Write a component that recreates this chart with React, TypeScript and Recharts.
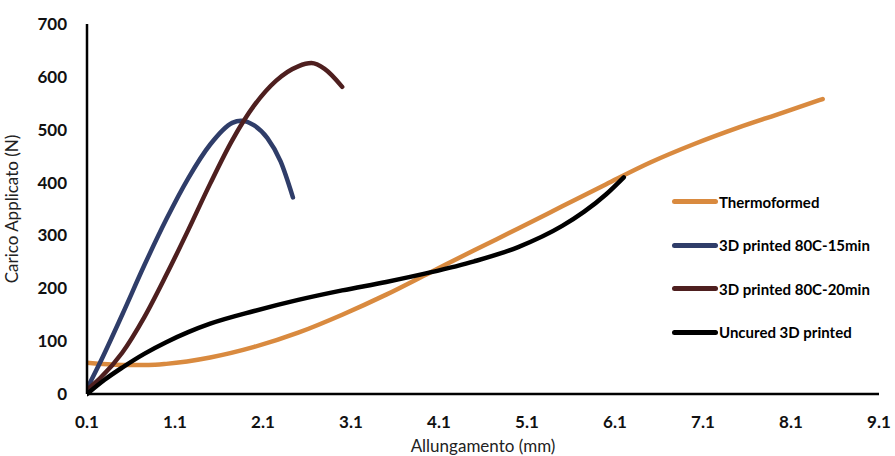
import { LineChart, Line, XAxis, YAxis, Legend } from 'recharts';

// tick values
const xTicks = [0.1, 1.1, 2.1, 3.1, 4.1, 5.1, 6.1, 7.1, 8.1, 9.1];
const yTicks = [0, 100, 200, 300, 400, 500, 600, 700];

// Thermoformed
const thermoX = [0.1, 0.5, 0.8, 1.0, 1.5, 2.0, 2.5, 3.0, 3.5, 4.0, 4.5, 5.0, 5.5, 6.0, 6.5, 7.0, 7.5, 8.0, 8.46];
const thermoY = [59, 55, 55, 57, 69, 89, 116, 150, 188, 230, 272, 313, 355, 397, 438, 473, 504, 532, 558];

// 3D printed 80C-15min
const p15X = [0.1, 0.25, 0.5, 0.75, 1.0, 1.25, 1.5, 1.75, 1.85, 2.0, 2.15, 2.3, 2.44];
const p15Y = [10, 60, 150, 243, 330, 408, 472, 513, 517, 508, 484, 440, 372];

// 3D printed 80C-20min
const p20X = [0.1, 0.25, 0.5, 0.75, 1.0, 1.25, 1.5, 1.75, 2.0, 2.25, 2.5, 2.65, 2.8, 3.0];
const p20Y = [8, 30, 78, 145, 225, 310, 398, 480, 546, 593, 620, 626, 615, 581];

// Uncured 3D printed
const uncuredX = [0.1, 0.3, 0.5, 0.75, 1.0, 1.25, 1.5, 2.0, 2.5, 3.0, 3.5, 4.0, 4.5, 5.0, 5.5, 5.75, 6.0, 6.2];
const uncuredY = [0, 27, 50, 76, 98, 117, 133, 157, 178, 196, 212, 230, 251, 278, 318, 345, 378, 410];

const zip = (xs: number[], ys: number[]) => xs.map((x, i) => ({ x, y: ys[i] }));

const series = [
	{ name: 'Thermoformed', color: '#D98A3F', data: zip(thermoX, thermoY) },
	{ name: '3D printed 80C-15min', color: '#2F3D69', data: zip(p15X, p15Y) },
	{ name: '3D printed 80C-20min', color: '#4E1F1F', data: zip(p20X, p20Y) },
	{ name: 'Uncured 3D printed', color: '#000000', data: zip(uncuredX, uncuredY) },
];

const font = 'Lato, "Open Sans", sans-serif';

function LegendBox() {
	return (
		<div style={{ fontFamily: font, fontWeight: 700, fontSize: 15, color: '#000' }}>
			{series.map((s) => (
				<div key={s.name} style={{ display: 'flex', alignItems: 'center', height: 43.5 }}>
					<div style={{ width: 46, height: 5, borderRadius: 3, background: s.color, marginRight: 1 }} />
					<span>{s.name}</span>
				</div>
			))}
		</div>
	);
}

export default function App() {
	return (
		<div style={{ position: 'absolute', left: 0, top: 0, width: 895, height: 456, background: '#fff' }}>
			<LineChart width={895} height={456} margin={{ top: 24, right: 16, bottom: 0, left: 0 }}>
				<XAxis
					type="number"
					dataKey="x"
					domain={[0.1, 9.1]}
					ticks={xTicks}
					allowDataOverflow
					tickLine={false}
					tickSize={0}
					tickMargin={22}
					height={62}
					axisLine={{ stroke: '#000', strokeWidth: 2.5 }}
					tick={{ fill: '#111', fontSize: 17, fontWeight: 700, fontFamily: font }}
					label={{ value: 'Allungamento (mm)', position: 'insideBottom', offset: 4, fill: '#222', fontSize: 17, fontFamily: font }}
				/>
				<YAxis
					type="number"
					dataKey="y"
					domain={[0, 700]}
					ticks={yTicks}
					tickLine={false}
					tickSize={0}
					tickMargin={20}
					width={87}
					axisLine={{ stroke: '#000', strokeWidth: 2.5 }}
					tick={{ fill: '#111', fontSize: 17, fontWeight: 700, fontFamily: font }}
					label={{ value: 'Carico Applicato (N)', angle: -90, position: 'insideLeft', offset: 12, fill: '#222', fontSize: 17, fontFamily: font, style: { textAnchor: 'middle' } }}
				/>
				<Legend
					layout="horizontal"
					verticalAlign="middle"
					align="center"
					content={() => <LegendBox />}
					wrapperStyle={{ left: 672, top: 180, width: 230 }}
				/>
				{series.map((s) => (
					<Line
						key={s.name}
						name={s.name}
						data={s.data}
						dataKey="y"
						type="monotone"
						stroke={s.color}
						strokeWidth={4.5}
						strokeLinecap="round"
						dot={false}
						activeDot={false}
						isAnimationActive={false}
					/>
				))}
			</LineChart>
		</div>
	);
}
